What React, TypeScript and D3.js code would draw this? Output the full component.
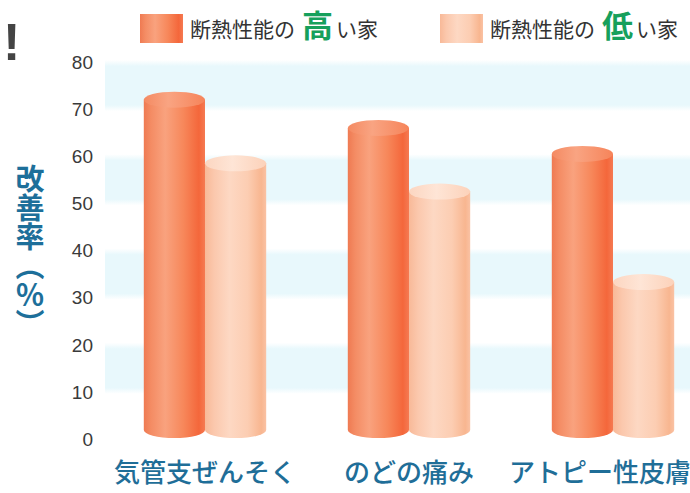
import * as d3 from 'd3'
import {useRef, useEffect} from 'react'

const categories: string[] = ['気管支ぜんそく', 'のどの痛み', 'アトピー性皮膚炎']
const seriesNames: string[] = ['high', 'low']
const highValues: number[] = [72, 66, 60.5]
const lowValues: number[] = [58.5, 52.5, 33.3]
const yTicks: number[] = [0, 10, 20, 30, 40, 50, 60, 70, 80]
const bandRanges: number[][] = [[70, 80], [50, 60], [30, 40], [10, 20]]

const JP = '"Noto Sans CJK JP", "Noto Sans", sans-serif'
const NUM = '"Liberation Sans", Arial, sans-serif'

const App = () => {
  const svgRef = useRef(null)
  const width = 690
  const height = 493

  const draw = (): void => {
    document.body.style.margin = '0'
    const svg = d3.select(svgRef.current)
    svg.attr('width', width).attr('height', height)
    svg.selectAll('*').remove()

    const yScale = d3.scaleLinear().domain([0, 80]).range([439, 62])
    const xScale = d3.scaleBand<string>()
      .domain(categories)
      .range([103, 715])
      .paddingInner(0.4)
      .paddingOuter(0.2)
    const xSub = d3.scaleBand<string>()
      .domain(seriesNames)
      .range([0, xScale.bandwidth()])

    const defs = svg.append('defs')
    const grad = (id: string, stops: [number, string][], vertical = false) => {
      const g = defs.append('linearGradient').attr('id', id)
        .attr('x1', 0).attr('y1', 0)
        .attr('x2', vertical ? 0 : 1).attr('y2', vertical ? 1 : 0)
      stops.forEach(([o, c]) => g.append('stop').attr('offset', o).attr('stop-color', c))
    }
    grad('gHigh', [[0, '#ef7a52'], [0.12, '#f48c64'], [0.35, '#f9a27e'], [0.65, '#f7875a'], [0.9, '#f4673b'], [1, '#f57a52']])
    grad('gHighCap', [[0, '#f48a62'], [0.4, '#f9a482'], [1, '#f6845a']])
    grad('gLow', [[0, '#f8b998'], [0.15, '#fbc8ad'], [0.4, '#fdd8c3'], [0.7, '#fccdb2'], [0.92, '#f8b690'], [1, '#fac2a4']])
    grad('gLowCap', [[0, '#fcd6c1'], [0.45, '#fee5d6'], [1, '#fcd2ba']])
    const bandGrad = defs.append('linearGradient').attr('id', 'gBand')
      .attr('x1', 0).attr('y1', 0).attr('x2', 0).attr('y2', 1)
    bandGrad.append('stop').attr('offset', 0).attr('stop-color', '#e8f8fc').attr('stop-opacity', 0)
    bandGrad.append('stop').attr('offset', 0.12).attr('stop-color', '#e8f8fc').attr('stop-opacity', 1)
    bandGrad.append('stop').attr('offset', 0.88).attr('stop-color', '#e8f8fc').attr('stop-opacity', 1)
    bandGrad.append('stop').attr('offset', 1).attr('stop-color', '#e8f8fc').attr('stop-opacity', 0)

    // background bands
    svg.append('g').selectAll('rect')
      .data(bandRanges)
      .enter()
      .append('rect')
      .attr('x', 105)
      .attr('width', width - 105)
      .attr('y', (d: number[]) => yScale(d[1]) - 2)
      .attr('height', (d: number[]) => yScale(d[0]) - yScale(d[1]) + 4)
      .attr('fill', 'url(#gBand)')

    // y ticks
    svg.append('g').selectAll('text')
      .data(yTicks)
      .enter()
      .append('text')
      .attr('x', 93)
      .attr('y', (d: number) => yScale(d))
      .attr('dy', '0.36em')
      .attr('text-anchor', 'end')
      .attr('font-family', NUM)
      .attr('font-size', 19)
      .attr('fill', '#3a3a3a')
      .text((d: number) => d)

    // cylinders
    const ry = 8
    const base = yScale(0) - 9
    const series = [
      {key: 'high', values: highValues, body: 'url(#gHigh)', cap: 'url(#gHighCap)'},
      {key: 'low', values: lowValues, body: 'url(#gLow)', cap: 'url(#gLowCap)'}
    ]
    const bars = svg.append('g')
    series.forEach(s => {
      const rx = xSub.bandwidth() / 2
      categories.forEach((c, i) => {
        const cx = (xScale(c) ?? 0) + (xSub(s.key) ?? 0) + rx
        const top = yScale(s.values[i])
        const p = d3.path()
        p.moveTo(cx - rx, top)
        p.lineTo(cx - rx, base)
        p.arcTo(cx - rx, base + ry, cx, base + ry, 0)
        p.closePath()
        bars.append('path')
          .attr('d', `M${cx - rx},${top} L${cx - rx},${base} A${rx},${ry} 0 0 0 ${cx + rx},${base} L${cx + rx},${top} Z`)
          .attr('fill', s.body)
        bars.append('ellipse')
          .attr('cx', cx).attr('cy', top)
          .attr('rx', rx).attr('ry', ry)
          .attr('fill', s.cap)
      })
    })

    // category labels
    svg.append('g').selectAll('text')
      .data(categories)
      .enter()
      .append('text')
      .attr('x', (d: string) => (xScale(d) ?? 0) + xScale.bandwidth() / 2)
      .attr('y', 482)
      .attr('text-anchor', 'middle')
      .attr('font-family', JP)
      .attr('font-size', 26)
      .attr('font-weight', 500)
      .attr('fill', '#1f6e98')
      .text((d: string) => d)

    // y axis title
    svg.append('text')
      .attr('x', 30)
      .attr('y', 164)
      .attr('font-family', JP)
      .attr('font-size', 29)
      .attr('font-weight', 700)
      .attr('fill', '#1d6f9a')
      .style('writing-mode', 'vertical-rl')
      .text('改善率（％）')

    // legend
    const legend = [
      {x: 140, fill: 'url(#gHigh)', word: '高'},
      {x: 440, fill: 'url(#gLow)', word: '低'}
    ]
    legend.forEach(l => {
      svg.append('rect')
        .attr('x', l.x).attr('y', 14)
        .attr('width', 43).attr('height', 29)
        .attr('fill', l.fill)
      const t = svg.append('text')
        .attr('x', l.x + 50).attr('y', 37)
        .attr('font-family', JP)
        .attr('fill', '#333')
      t.append('tspan').attr('font-size', 21).text('断熱性能の')
      t.append('tspan').attr('dx', 7).attr('font-size', 31).attr('font-weight', 700)
        .attr('fill', '#16a05c').text(l.word)
      t.append('tspan').attr('dx', 3).attr('font-size', 21).text('い家')
    })

    svg.append('text')
      .attr('x', 3).attr('y', 60)
      .attr('font-family', NUM)
      .attr('font-size', 52)
      .attr('font-weight', 700)
      .attr('fill', '#444')
      .text('!')
  }

  useEffect((): void => draw(), [])

  return <svg ref={svgRef}></svg>
}

export default App
